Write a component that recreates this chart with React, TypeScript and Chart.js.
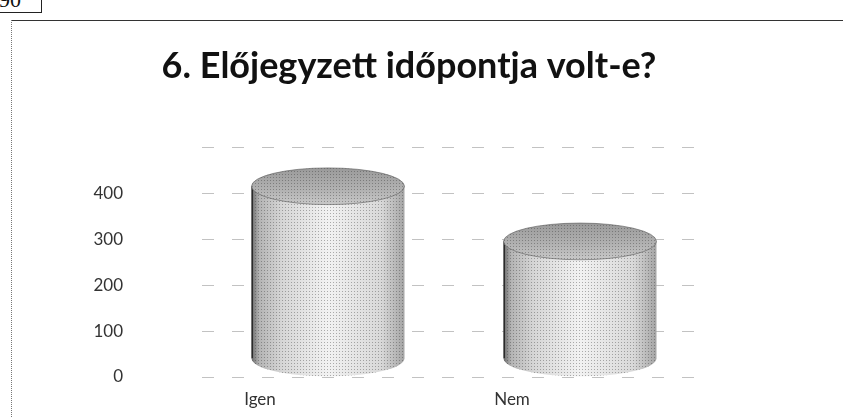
import React, { useEffect, useRef } from "react";
import { Chart, registerables } from "chart.js";

Chart.register(...registerables);

const chartTitle = "6. Előjegyzett időpontja volt-e?";
const categories = ["Igen", "Nem"];
const values = [415, 295];
const yMax = 500;
const yStep = 100;
const hiddenTickValues = [500];
const pageNumber = "90";

function makeStipple(ctx: CanvasRenderingContext2D) {
  const c = document.createElement("canvas");
  c.width = 3;
  c.height = 3;
  const p = c.getContext("2d")!;
  p.fillStyle = "rgba(40,40,40,0.35)";
  p.fillRect(0, 0, 1, 1);
  return ctx.createPattern(c, "repeat");
}

const cylinderPlugin = {
  id: "cylinderLook",
  afterDatasetsDraw(chart: any) {
    const ctx = chart.ctx as CanvasRenderingContext2D;
    const stipple = makeStipple(ctx);
    chart.data.datasets.forEach((_: any, di: number) => {
      const meta = chart.getDatasetMeta(di);
      meta.data.forEach((el: any) => {
        const { x, y, base, width } = el.getProps(["x", "y", "base", "width"], true);
        const rx = width / 2;
        const ry = width * 0.12;
        const left = x - rx;
        const right = x + rx;
        const bottomC = base - ry;
        ctx.save();
        const body = () => {
          ctx.beginPath();
          ctx.moveTo(left, y);
          ctx.lineTo(left, bottomC);
          ctx.ellipse(x, bottomC, rx, ry, 0, Math.PI, 0, true);
          ctx.lineTo(right, y);
          ctx.closePath();
        };
        const g = ctx.createLinearGradient(left, 0, right, 0);
        g.addColorStop(0, "#6a6a6a");
        g.addColorStop(0.05, "#b4b4b4");
        g.addColorStop(0.2, "#d6d6d6");
        g.addColorStop(0.5, "#f2f2f2");
        g.addColorStop(0.85, "#d8d8d8");
        g.addColorStop(1, "#a4a4a4");
        ctx.fillStyle = g;
        body();
        ctx.fill();
        if (stipple) {
          ctx.fillStyle = stipple;
          body();
          ctx.fill();
        }
        ctx.strokeStyle = "#2a2a2a";
        ctx.lineWidth = 1.5;
        ctx.beginPath();
        ctx.moveTo(left + 0.75, y);
        ctx.lineTo(left + 0.75, bottomC);
        ctx.stroke();
        const tg = ctx.createLinearGradient(0, y - ry, 0, y + ry);
        tg.addColorStop(0, "#9a9a9a");
        tg.addColorStop(0.6, "#b2b2b2");
        tg.addColorStop(1, "#c8c8c8");
        ctx.fillStyle = tg;
        ctx.beginPath();
        ctx.ellipse(x, y, rx, ry, 0, 0, Math.PI * 2);
        ctx.fill();
        if (stipple) {
          ctx.fillStyle = stipple;
          ctx.fill();
        }
        ctx.strokeStyle = "rgba(90,90,90,0.6)";
        ctx.lineWidth = 1;
        ctx.stroke();
        ctx.restore();
      });
    });
  },
};

export default function App() {
  const canvasRef = useRef<HTMLCanvasElement | null>(null);

  useEffect(() => {
    const canvas = canvasRef.current;
    if (!canvas) return;
    const chart = new Chart(canvas, {
      type: "bar",
      data: {
        labels: categories,
        datasets: [
          {
            data: values,
            backgroundColor: "rgba(0,0,0,0)",
            borderWidth: 0,
            barPercentage: 0.607,
            categoryPercentage: 1,
          },
        ],
      },
      options: {
        responsive: false,
        animation: false,
        layout: { padding: { left: 87, right: 112, top: 0, bottom: 0 } },
        plugins: {
          legend: { display: false },
          tooltip: { enabled: false },
          title: {
            display: true,
            text: chartTitle,
            color: "#111",
            font: { family: "Lato", size: 36, weight: "bold" },
            padding: { top: 45, bottom: 59 },
          },
        },
        scales: {
          x: {
            grid: { display: false },
            border: { display: false },
            ticks: {
              color: "#333",
              font: { family: "Lato", size: 17 },
              padding: 4,
              labelOffset: -68,
            },
            afterFit: (s: any) => {
              s.height = 40;
            },
          },
          y: {
            min: 0,
            max: yMax,
            border: { display: false, dash: [12, 18] },
            grid: {
              color: "rgba(0,0,0,0.24)",
              drawTicks: false,
            },
            ticks: {
              stepSize: yStep,
              color: "#333",
              font: { family: "Lato", size: 17 },
              padding: 79,
              callback: (v: any) => (hiddenTickValues.includes(Number(v)) ? "" : String(v)),
            },
            afterFit: (s: any) => {
              s.width = 115;
              s.paddingTop = 8;
              s.paddingBottom = 8;
            },
          },
          ySpacer: {
            position: "right",
            min: 0,
            max: yMax,
            grid: { display: false },
            border: { display: false },
            ticks: { display: false },
            afterFit: (s: any) => {
              s.width = 25;
              s.paddingTop = 0;
              s.paddingBottom = 0;
            },
          },
        },
      },
      plugins: [cylinderPlugin],
    } as any);
    return () => chart.destroy();
  }, []);

  return (
    <div style={{ position: "fixed", inset: 0, background: "#fff", overflow: "hidden" }}>
      <div
        style={{
          position: "absolute",
          left: -6,
          top: -12,
          width: 48,
          height: 25,
          border: "1px solid #222",
          fontFamily: "Liberation Serif",
          fontSize: 22,
          lineHeight: "22px",
          paddingLeft: 4,
          boxSizing: "border-box",
          color: "#111",
        }}
      >
        {pageNumber}
      </div>
      <div style={{ position: "absolute", left: 11, top: 20, right: 0, borderTop: "1px solid #333" }} />
      <div style={{ position: "absolute", left: 11, top: 20, bottom: 0, borderLeft: "1px dotted #777" }} />
      <canvas ref={canvasRef} width={843} height={417} style={{ position: "absolute", left: 0, top: 0 }} />
    </div>
  );
}
